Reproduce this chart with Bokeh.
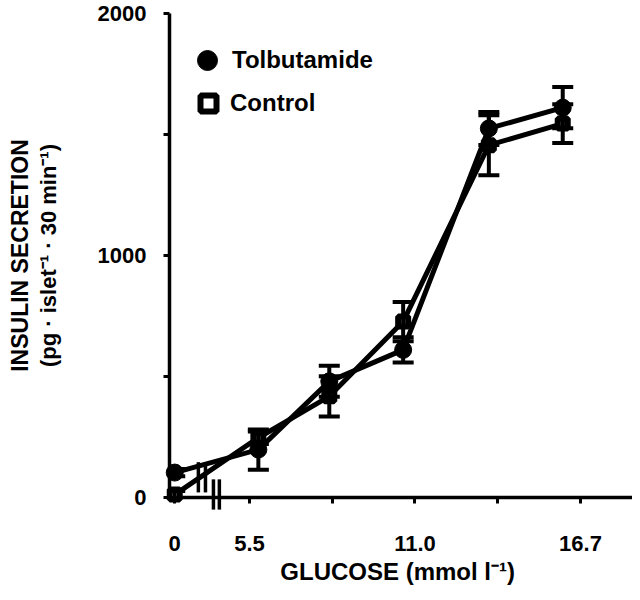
from bokeh.plotting import figure
from bokeh.models import (ColumnDataSource, Whisker, TeeHead, FixedTicker,
                          Legend, LegendItem, Range1d, LinearAxis)
from bokeh.embed import file_html
from bokeh.resources import INLINE

# ---------------- data ----------------
glucose = [0, 5.8, 8.2, 10.7, 13.6, 16.1]          # mmol/l, as drawn
tolbutamide = [103, 198, 480, 610, 1525, 1611]      # pg/islet/30 min
tolbutamide_err = [15, 83, 64, 52, 68, 85]
control = [12, 247, 418, 727, 1456, 1545]
control_err = [15, 26, 83, 81, 124, 80]

x_ticks = [0, 5.5, 8.3, 11.1, 13.9, 16.7]
x_tick_labels = ["0", "5.5", "", "11.0", "", "16.7"]
y_ticks = [0, 500, 1000, 1500, 2000]
y_tick_labels = ["0", "", "1000", "", "2000"]

x_title = "GLUCOSE (mmol  l\u207b\u00b9)"
y_title = "INSULIN SECRETION"
y_units = "(pg \u00b7 islet\u207b\u00b9 \u00b7 30 min\u207b\u00b9)"

# broken x axis: glucose 0 is drawn just right of the y axis
ZERO_POS = 2.97
def xpos(g):
    return ZERO_POS if g == 0 else g

# break marks ("//") on the lines and on the axis, in axis units
line_break_x = [3.77, 4.01]
line_break_y = [21, 146]
axis_break_x = [4.28, 4.48]
axis_break_y = [-50, 75]

FONT = "Liberation Sans"

xs = [xpos(g) for g in glucose]
src_t = ColumnDataSource(dict(x=xs, y=tolbutamide,
                              lo=[v - e for v, e in zip(tolbutamide, tolbutamide_err)],
                              hi=[v + e for v, e in zip(tolbutamide, tolbutamide_err)]))
src_c = ColumnDataSource(dict(x=xs, y=control,
                              lo=[v - e for v, e in zip(control, control_err)],
                              hi=[v + e for v, e in zip(control, control_err)]))

p = figure(width=632, height=592, x_range=Range1d(2.793, 18.461), y_range=Range1d(0, 2000),
           output_backend="svg", toolbar_location=None,
           min_border_left=169, min_border_right=0, min_border_top=13, min_border_bottom=95)
p.outline_line_color = None
p.xgrid.grid_line_color = None
p.ygrid.grid_line_color = None
p.background_fill_color = "white"
p.border_fill_color = "white"

xt = [xpos(t) for t in x_ticks]
p.xaxis.ticker = FixedTicker(ticks=xt)
p.xaxis.major_label_overrides = {t: l for t, l in zip(xt, x_tick_labels)}
p.yaxis.ticker = FixedTicker(ticks=y_ticks)
p.yaxis.major_label_overrides = {t: l for t, l in zip(y_ticks, y_tick_labels)}

for ax in (p.xaxis[0], p.yaxis[0]):
    ax.axis_line_width = 3.5
    ax.axis_line_color = "black"
    ax.major_tick_line_width = 3
    ax.major_tick_line_color = "black"
    ax.major_tick_out = 6
    ax.major_tick_in = 0
    ax.minor_tick_line_color = None
    ax.major_label_text_font = FONT
    ax.major_label_text_font_style = "bold"
    ax.major_label_text_color = "black"
    ax.axis_label_text_font = FONT
    ax.axis_label_text_font_style = "bold"
    ax.axis_label_text_color = "black"

p.xaxis.major_label_text_font_size = "22px"
p.xaxis.major_label_standoff = 32
p.xaxis.axis_label = x_title
p.xaxis.axis_label_text_font_size = "24px"
p.xaxis.axis_label_standoff = 4

p.yaxis.major_label_text_font_size = "22px"
p.yaxis.major_label_standoff = 17
p.yaxis.axis_label = y_units
p.yaxis.axis_label_text_font_size = "22px"
p.yaxis.axis_label_standoff = 34

# outer y title line
ax2 = LinearAxis(axis_label=y_title, ticker=FixedTicker(ticks=[]),
                 axis_line_color=None, major_tick_line_color=None, minor_tick_line_color=None,
                 major_tick_out=0, major_tick_in=0, major_label_standoff=0,
                 major_label_text_font_size="0px",
                 axis_label_standoff=0, axis_label_text_font=FONT,
                 axis_label_text_font_style="bold", axis_label_text_font_size="23px",
                 axis_label_text_color="black")
p.add_layout(ax2, "left")

# error bars
for src in (src_c, src_t):
    w = Whisker(source=src, base="x", lower="lo", upper="hi", dimension="height",
                line_width=4, line_color="black", level="overlay",
                upper_head=TeeHead(size=21, line_width=4, line_color="black"),
                lower_head=TeeHead(size=21, line_width=4, line_color="black"))
    p.add_layout(w)

p.line("x", "y", source=src_c, line_width=5, line_color="black", level="overlay")
p.line("x", "y", source=src_t, line_width=5, line_color="black", level="overlay")

# break marks
p.segment(x0=line_break_x, y0=[line_break_y[0]] * 2, x1=line_break_x, y1=[line_break_y[1]] * 2,
          line_width=3.5, line_color="black", level="overlay")
p.segment(x0=axis_break_x, y0=[axis_break_y[0]] * 2, x1=axis_break_x, y1=[axis_break_y[1]] * 2,
          line_width=3.5, line_color="black", level="overlay")

r_c = p.scatter("x", "y", source=src_c, marker="square", size=10, line_width=6,
                line_color="black", fill_color="white", level="overlay")
r_t = p.scatter("x", "y", source=src_t, marker="circle", size=17, line_width=1,
                line_color="black", fill_color="black", level="overlay")

# legend (two single-item legends)
leg_common = dict(padding=0, margin=0, border_line_color=None, background_fill_alpha=0,
                  label_text_font_size="24px", label_text_font_style="bold",
                  label_text_font=FONT, label_text_color="black")
leg1 = Legend(items=[LegendItem(label="Tolbutamide", renderers=[r_t])], location=(13, 412),
              glyph_width=50, glyph_height=50, label_standoff=0, **leg_common)
leg2 = Legend(items=[LegendItem(label="Control", renderers=[r_c])], location=(19, 374),
              glyph_width=40, glyph_height=40, label_standoff=2, **leg_common)
p.add_layout(leg1)
p.add_layout(leg2)

open("out.html", "w").write(file_html(p, INLINE))
